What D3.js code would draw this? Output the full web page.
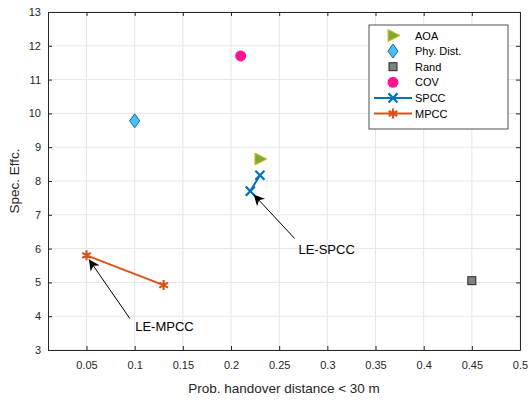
<!DOCTYPE html>
<html>
<head>
<meta charset="utf-8">
<script src="https://cdn.jsdelivr.net/npm/d3@7"></script>
<style>
  body { margin: 0; background: #fff; }
  svg { font-family: "Liberation Sans", Arial, sans-serif; }
</style>
</head>
<body>
<div id="chart"></div>
<script>
// single points
const aoa = [{x: 0.23, y: 8.65}];
const phyDist = [{x: 0.10, y: 9.78}];
const rand = [{x: 0.45, y: 5.05}];
const cov = [{x: 0.21, y: 11.7}];
// lines
const spcc = [{x: 0.22, y: 7.70}, {x: 0.23, y: 8.17}];
const mpcc = [{x: 0.05, y: 5.80}, {x: 0.13, y: 4.92}];

const xTicks = [0.05, 0.1, 0.15, 0.2, 0.25, 0.3, 0.35, 0.4, 0.45, 0.5];
const yTicks = [3, 4, 5, 6, 7, 8, 9, 10, 11, 12, 13];

const width = 530;
const height = 403;
const marginTop = 12;
const marginBottom = 53;
const marginLeft = 48;
const marginRight = 10;

const x = d3.scaleLinear()
    .domain([0.01, 0.5])
    .range([marginLeft, width - marginRight]);

const y = d3.scaleLinear()
    .domain([3, 13])
    .range([height - marginBottom, marginTop]);

const svg = d3.select("#chart").append("svg")
    .attr("width", width)
    .attr("height", height)
    .attr("viewBox", [0, 0, width, height]);

// grid
svg.append("g")
  .selectAll("line")
  .data(xTicks)
  .join("line")
    .attr("x1", d => x(d)).attr("x2", d => x(d))
    .attr("y1", y(3)).attr("y2", y(13))
    .attr("stroke", "#e6e6e6");

svg.append("g")
  .selectAll("line")
  .data(yTicks)
  .join("line")
    .attr("x1", x(0.01)).attr("x2", x(0.5))
    .attr("y1", d => y(d)).attr("y2", d => y(d))
    .attr("stroke", "#e6e6e6");

// axes
const styleAxis = g => {
  g.selectAll(".domain").attr("stroke", "#262626");
  g.selectAll(".tick line").attr("stroke", "#262626");
  g.selectAll("text").attr("fill", "#262626").attr("font-size", 11);
};

svg.append("g")
    .attr("transform", `translate(0,${y(3)})`)
    .call(d3.axisBottom(x).tickValues(xTicks).tickSize(-4).tickSizeOuter(0).tickPadding(11).tickFormat(d3.format("~g")))
    .call(styleAxis);

svg.append("g")
    .attr("transform", `translate(0,${y(13)})`)
    .call(d3.axisTop(x).tickValues(xTicks).tickSize(-4).tickSizeOuter(0).tickFormat(""))
    .call(styleAxis);

svg.append("g")
    .attr("transform", `translate(${x(0.01)},0)`)
    .call(d3.axisLeft(y).tickValues(yTicks).tickSize(-4).tickSizeOuter(0).tickPadding(7))
    .call(styleAxis);

svg.append("g")
    .attr("transform", `translate(${x(0.5)},0)`)
    .call(d3.axisRight(y).tickValues(yTicks).tickSize(-4).tickSizeOuter(0).tickFormat(""))
    .call(styleAxis);

// axis labels
svg.append("text")
    .attr("x", (x(0.01) + x(0.5)) / 2)
    .attr("y", 393)
    .attr("text-anchor", "middle")
    .attr("font-size", 13.5)
    .attr("fill", "#262626")
    .text("Prob. handover distance < 30 m");

svg.append("text")
    .attr("transform", `translate(19,${(y(3) + y(13)) / 2}) rotate(-90)`)
    .attr("text-anchor", "middle")
    .attr("font-size", 13.5)
    .attr("fill", "#262626")
    .text("Spec. Effc.");

// marker helpers
const cross = d3.symbol().type(d3.symbolX).size(55);
const star = d3.symbol().type(d3.symbolAsterisk).size(70);

function drawTriangle(g, cx, cy) {
  g.append("path")
      .attr("d", `M${cx - 5},${cy - 6}L${cx + 7},${cy}L${cx - 5},${cy + 6}Z`)
      .attr("fill", "#77ac30").attr("stroke", "#edb120").attr("stroke-width", 1);
}
function drawDiamond(g, cx, cy) {
  g.append("path")
      .attr("d", `M${cx},${cy - 7}L${cx + 5},${cy}L${cx},${cy + 7}L${cx - 5},${cy}Z`)
      .attr("fill", "#4dbeee").attr("stroke", "#0072bd").attr("stroke-width", 1);
}
function drawSquare(g, cx, cy) {
  g.append("rect")
      .attr("x", cx - 4).attr("y", cy - 4).attr("width", 8).attr("height", 8)
      .attr("fill", "#808080").attr("stroke", "#262626").attr("stroke-width", 1);
}
function drawCircle(g, cx, cy) {
  g.append("circle")
      .attr("cx", cx).attr("cy", cy).attr("r", 5.5)
      .attr("fill", "#ff1493");
}
function drawCross(g, cx, cy, c) {
  g.append("path").attr("d", cross).attr("transform", `translate(${cx},${cy})`)
      .attr("fill", "none").attr("stroke", c).attr("stroke-width", 2.2);
}
function drawStar(g, cx, cy, c) {
  g.append("path").attr("d", star).attr("transform", `translate(${cx},${cy})`)
      .attr("fill", c).attr("stroke", c).attr("stroke-width", 2.2);
}

const line = d3.line().x(d => x(d.x)).y(d => y(d.y));
const marks = svg.append("g");

marks.append("path").datum(spcc).attr("d", line)
    .attr("fill", "none").attr("stroke", "#0072bd").attr("stroke-width", 2);
spcc.forEach(d => drawCross(marks, x(d.x), y(d.y), "#0072bd"));

marks.append("path").datum(mpcc).attr("d", line)
    .attr("fill", "none").attr("stroke", "#d95319").attr("stroke-width", 2);
mpcc.forEach(d => drawStar(marks, x(d.x), y(d.y), "#d95319"));

aoa.forEach(d => drawTriangle(marks, x(d.x), y(d.y)));
phyDist.forEach(d => drawDiamond(marks, x(d.x), y(d.y)));
rand.forEach(d => drawSquare(marks, x(d.x), y(d.y)));
cov.forEach(d => drawCircle(marks, x(d.x), y(d.y)));

// annotations
svg.append("defs").append("marker")
    .attr("id", "arrow")
    .attr("viewBox", "0 0 10 10")
    .attr("refX", 10).attr("refY", 5)
    .attr("markerWidth", 11).attr("markerHeight", 11)
    .attr("markerUnits", "userSpaceOnUse")
    .attr("orient", "auto")
  .append("path")
    .attr("d", "M0,0L10,5L0,10L3,5Z")
    .attr("fill", "#000");

const notes = [
  {label: "LE-SPCC", from: {x: 0.266, y: 6.3}, to: {x: 0.2235, y: 7.6}, tx: 0.270, ty: 5.83},
  {label: "LE-MPCC", from: {x: 0.095, y: 3.93}, to: {x: 0.0525, y: 5.68}, tx: 0.1005, ty: 3.56}
];

notes.forEach(n => {
  svg.append("line")
      .attr("x1", x(n.from.x)).attr("y1", y(n.from.y))
      .attr("x2", x(n.to.x)).attr("y2", y(n.to.y))
      .attr("stroke", "#000").attr("stroke-width", 1)
      .attr("marker-end", "url(#arrow)");
  svg.append("text")
      .attr("x", x(n.tx)).attr("y", y(n.ty))
      .attr("font-size", 13).attr("fill", "#000")
      .text(n.label);
});

// legend
const legend = svg.append("g").attr("transform", "translate(369,25)");
legend.append("rect")
    .attr("width", 139).attr("height", 104)
    .attr("fill", "#fff").attr("stroke", "#262626").attr("stroke-width", 0.8);

const legendItems = ["AOA", "Phy. Dist.", "Rand", "COV", "SPCC", "MPCC"];
legendItems.forEach((name, i) => {
  const ly = 10.5 + i * 15.6;
  const lx = 24;
  if (i === 0) drawTriangle(legend, lx, ly);
  if (i === 1) drawDiamond(legend, lx, ly);
  if (i === 2) drawSquare(legend, lx, ly);
  if (i === 3) drawCircle(legend, lx, ly);
  if (i === 4) {
    legend.append("line").attr("x1", 5).attr("x2", 43).attr("y1", ly).attr("y2", ly)
        .attr("stroke", "#0072bd").attr("stroke-width", 2);
    drawCross(legend, lx, ly, "#0072bd");
  }
  if (i === 5) {
    legend.append("line").attr("x1", 5).attr("x2", 43).attr("y1", ly).attr("y2", ly)
        .attr("stroke", "#d95319").attr("stroke-width", 2);
    drawStar(legend, lx, ly, "#d95319");
  }
  legend.append("text")
      .attr("x", 46).attr("y", ly + 4)
      .attr("font-size", 11).attr("fill", "#000")
      .text(name);
});
</script>
</body>
</html>
